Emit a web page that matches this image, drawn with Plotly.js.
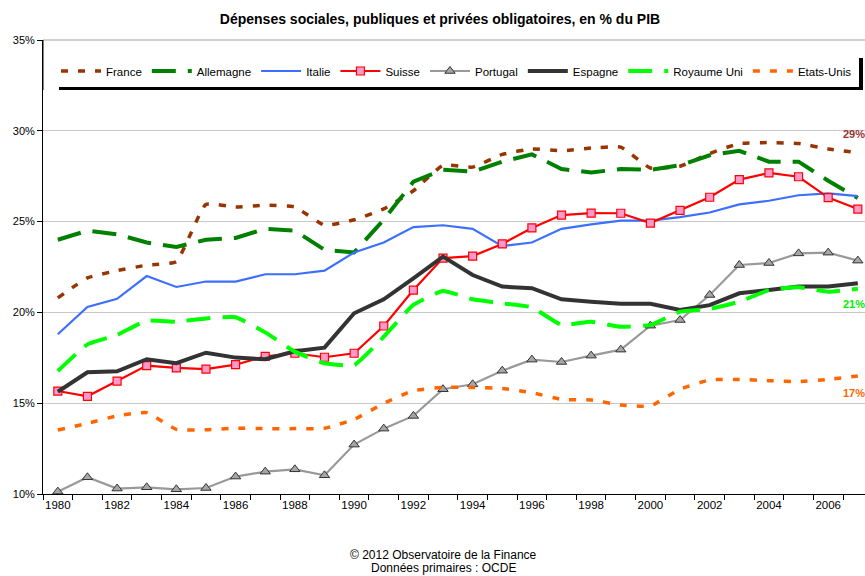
<!DOCTYPE html>
<html>
<head>
<meta charset="utf-8">
<script src="https://cdn.plot.ly/plotly-3.0.1.min.js"></script>
<style>html,body{margin:0;padding:0;background:#fff;}#chart{width:865px;height:576px;}</style>
</head>
<body>
<div id="chart"></div>
<script>
var years = [1980,1981,1982,1983,1984,1985,1986,1987,1988,1989,1990,1991,1992,1993,1994,1995,1996,1997,1998,1999,2000,2001,2002,2003,2004,2005,2006,2007];
var france    = [20.8,21.9,22.3,22.6,22.8,25.95,25.8,25.9,25.8,24.8,25.1,25.7,26.7,28.1,28.0,28.7,29.0,28.9,29.05,29.1,27.95,28.05,28.75,29.3,29.35,29.3,29.0,28.8];
var allemagne = [24.0,24.5,24.3,23.85,23.6,24.0,24.1,24.6,24.5,23.45,23.3,25.1,27.2,27.85,27.75,28.3,28.7,27.9,27.7,27.9,27.85,28.1,28.65,28.9,28.3,28.3,27.25,26.3];
var italie    = [18.8,20.3,20.75,22.0,21.4,21.7,21.7,22.1,22.1,22.3,23.3,23.85,24.7,24.8,24.6,23.65,23.85,24.6,24.85,25.05,25.05,25.25,25.5,25.95,26.15,26.45,26.55,26.4];
var suisse    = [15.67,15.38,16.22,17.07,16.94,16.88,17.12,17.58,17.75,17.53,17.75,19.25,21.23,22.99,23.1,23.77,24.65,25.36,25.47,25.46,24.92,25.62,26.34,27.31,27.68,27.47,26.32,25.69];
var portugal  = [10.13,10.92,10.3,10.37,10.26,10.33,10.96,11.23,11.36,11.03,12.72,13.6,14.3,15.77,16.04,16.79,17.4,17.27,17.62,17.95,19.27,19.58,20.96,22.61,22.72,23.25,23.29,22.85];
var espagne   = [15.63,16.7,16.76,17.42,17.2,17.78,17.51,17.42,17.86,18.06,19.95,20.72,21.88,23.07,22.06,21.42,21.33,20.72,20.59,20.48,20.48,20.13,20.4,21.05,21.23,21.42,21.42,21.6];
var royaumeUni= [16.77,18.24,18.76,19.55,19.49,19.67,19.73,18.9,17.84,17.2,17.1,18.66,20.41,21.18,20.72,20.5,20.28,19.31,19.49,19.21,19.31,20.04,20.19,20.59,21.23,21.38,21.14,21.3];
var etatsUnis = [13.52,13.89,14.3,14.48,13.56,13.54,13.62,13.6,13.6,13.62,14.11,14.99,15.69,15.87,15.87,15.81,15.58,15.21,15.18,14.9,14.85,15.77,16.28,16.31,16.24,16.19,16.31,16.5];

var xTickVals = [1980,1982,1984,1986,1988,1990,1992,1994,1996,1998,2000,2002,2004,2006];
var xTickText = ['1980','1982','1984','1986','1988','1990','1992','1994','1996','1998','2000','2002','2004','2006'];
var yTickVals = [10,15,20,25,30,35];
var yTickText = ['10%','15%','20%','25%','30%','35%'];
var endLabels = [{t:'29%', v:29.8, c:'#993333'},{t:'21%', v:20.45, c:'#00EE00'},{t:'17%', v:15.55, c:'#FF6600'}];

var FONT = 'Liberation Sans, Arial, sans-serif';
var L = 43, T = 40, B = 494, W = 865;
function px(x){ return (x - L) / (W - L); }
function py(y){ return (B - y) / (B - T); }

var traces = [
  {name:'France', x:years, y:france, mode:'lines', line:{color:'#993300', width:3.5, dash:'7px,10px', shape:'spline', smoothing:0.4}},
  {name:'Allemagne', x:years, y:allemagne, mode:'lines', line:{color:'#008000', width:4, dash:'24px,12px'}},
  {name:'Italie', x:years, y:italie, mode:'lines', line:{color:'#3D6FFF', width:2.2}},
  {name:'Suisse', x:years, y:suisse, mode:'lines+markers', line:{color:'#FF0000', width:2.2}, marker:{symbol:'square', size:8, color:'#FF99CC', line:{color:'#FF0000', width:1.2}}},
  {name:'Portugal', x:years, y:portugal, mode:'lines+markers', line:{color:'#999999', width:2.2}, marker:{symbol:'triangle-up', size:9, color:'#A6A6A6', line:{color:'#333333', width:1}}},
  {name:'Espagne', x:years, y:espagne, mode:'lines', line:{color:'#333333', width:4}},
  {name:'Royaume Uni', x:years, y:royaumeUni, mode:'lines', line:{color:'#00FF00', width:4, dash:'24px,12px', shape:'spline', smoothing:0.4}},
  {name:'Etats-Unis', x:years, y:etatsUnis, mode:'lines', line:{color:'#FF6600', width:3.5, dash:'7px,10px', shape:'spline', smoothing:0.4}}
];

var shapes = [
  {type:'rect', xref:'paper', yref:'paper', x0:px(59), x1:px(863), y0:py(90), y1:py(58), fillcolor:'#000', line:{width:0}, layer:'above'},
  {type:'rect', xref:'paper', yref:'paper', x0:px(43), x1:px(859), y0:py(87), y1:py(40), fillcolor:'#fff', line:{width:0}, layer:'above'},
  {type:'line', xref:'paper', yref:'paper', x0:px(43), x1:1, y0:py(40), y1:py(40), line:{color:'#A0A0A0', width:1}, layer:'above'},
  {type:'line', xref:'paper', yref:'paper', x0:px(43), x1:px(43), y0:py(40), y1:py(90), line:{color:'#000', width:1}, layer:'above'}
];

var annotations = endLabels.map(function(a){
  return {xref:'paper', yref:'y', x:1.002, y:a.v, xanchor:'right', yanchor:'middle', text:'<b>'+a.t+'</b>', showarrow:false, font:{family:FONT, size:11, color:a.c}};
});
annotations.push({xref:'paper', yref:'paper', x:(443-L)/(W-L), y:py(555), xanchor:'center', yanchor:'middle', text:'© 2012 Observatoire de la Finance', showarrow:false, font:{family:FONT, size:12, color:'#000'}});
annotations.push({xref:'paper', yref:'paper', x:(443-L)/(W-L), y:py(567.5), xanchor:'center', yanchor:'middle', text:'Données primaires : OCDE', showarrow:false, font:{family:FONT, size:12, color:'#000'}});

var layout = {
  width:865, height:576,
  margin:{l:L, r:0, t:T, b:576-B},
  paper_bgcolor:'#fff', plot_bgcolor:'#fff',
  font:{family:FONT, size:11, color:'#000'},
  title:{text:'<b>Dépenses sociales, publiques et privées obligatoires, en % du PIB</b>', x:(440-L)/(W-L), xref:'paper', xanchor:'center', y:1-19.5/576, yanchor:'middle', yref:'container', font:{family:FONT, size:14, color:'#000'}},
  showlegend:true,
  legend:{orientation:'h', x:px(56), xanchor:'left', y:py(71), yanchor:'middle', bgcolor:'rgba(0,0,0,0)', borderwidth:0, itemwidth:40, font:{family:FONT, size:11.5, color:'#000'}, traceorder:'normal'},
  xaxis:{range:[1979.5, 1979.5 + (W-L)/29.63], tickmode:'array', tickvals:xTickVals, ticktext:xTickText, ticks:'', showgrid:false, zeroline:false, showline:true, linecolor:'#000', linewidth:1, tickfont:{family:FONT, size:11.5, color:'#000'},
    minor:{tickmode:'linear', tick0:1979.5, dtick:1, ticks:'outside', ticklen:5, tickcolor:'#000', tickwidth:1, showgrid:false}},
  yaxis:{range:[10,35], tickmode:'array', tickvals:yTickVals, ticktext:yTickText, ticks:'outside', ticklen:5, tickcolor:'#000', showgrid:true, gridcolor:'#C8C8C8', gridwidth:1, zeroline:false, showline:true, linecolor:'#000', linewidth:1, tickfont:{family:FONT, size:11, color:'#000'}},
  shapes:shapes,
  annotations:annotations
};

Plotly.newPlot('chart', traces, layout, {staticPlot:true, displayModeBar:false});
</script>
</body>
</html>
